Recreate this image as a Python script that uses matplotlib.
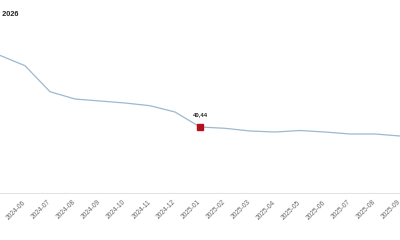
import matplotlib
matplotlib.use("Agg")
import matplotlib.pyplot as plt

months = ["2024-05", "2024-06", "2024-07", "2024-08", "2024-09", "2024-10",
          "2024-11", "2024-12", "2025-01", "2025-02", "2025-03", "2025-04",
          "2025-05", "2025-06", "2025-07", "2025-08", "2025-09"]
values = [47.60, 46.57, 43.97, 43.24, 43.04, 42.84, 42.57, 41.94, 40.44,
          40.31, 40.04, 39.94, 40.09, 39.94, 39.74, 39.74, 39.54]
highlight_index = 8
highlight_label = "40,44"
title_text = "ı 2026"

plt.rcParams['font.family'] = ['Liberation Sans', 'DejaVu Sans']

fig = plt.figure(figsize=(4, 2.4), dpi=100)
ax = fig.add_axes([0, 1 - 193 / 240, 1, 173 / 240])
x = list(range(len(months)))
ax.plot(x, values, color="#9db8cf", lw=0.9, clip_on=True)
ax.plot([x[highlight_index]], [values[highlight_index]], marker="s", ms=4.8,
        color="#b3121c", mec="#b3121c", ls="none", zorder=3)
ax.annotate(highlight_label, (x[highlight_index], values[highlight_index]),
            xytext=(0, 9), textcoords="offset points", ha="center", va="center",
            fontsize=4.2, color="#222222", fontweight="bold")

ax.set_xlim((0 + 2.2) / 25.2, (400 + 2.2) / 25.2)
ax.set_ylim(33.84, 51.14)
ax.set_xticks(x)
ax.set_xticklabels(months, rotation=45, ha="right", va="center",
                   rotation_mode="anchor", fontsize=4.8, color="#666666")
ax.tick_params(axis="x", length=0, pad=6)
ax.set_yticks([])
for s in ["top", "left", "right"]:
    ax.spines[s].set_visible(False)
ax.spines["bottom"].set_color("#e3e3e3")
ax.spines["bottom"].set_linewidth(0.8)

fig.text(-0.005, 1 - 14 / 240, title_text, fontsize=5.3, fontweight="bold",
         color="#222222", ha="left", va="center")

fig.savefig("out.png", dpi=100)
